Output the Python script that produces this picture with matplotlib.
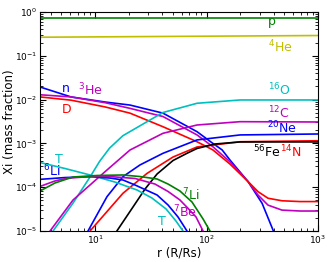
import matplotlib
matplotlib.use('Agg')
import matplotlib.pyplot as plt

# abundance profiles: radius r (R/Rs) and mass fraction Xi
r_p = [3.21, 10, 100, 1000]
x_p = [0.73, 0.73, 0.73, 0.73]
r_he4 = [3.21, 10, 100, 1000]
x_he4 = [0.265, 0.27, 0.28, 0.29]

r_n = [3.21, 6.09, 12.3, 20.6, 40.7, 82.2, 114, 138, 162, 236, 315, 395, 420]
x_n = [0.0194, 0.0115, 0.0088, 0.0075, 0.0049, 0.00185, 0.0010, 0.00071, 0.00042,
       1.34e-4, 4.3e-5, 1.05e-5, 7e-6]
r_he3 = [3.21, 6.09, 12.3, 20.6, 40.7, 82.2, 114, 162, 236, 290, 356, 475, 690, 1000]
x_he3 = [0.0129, 0.0115, 0.0085, 0.0063, 0.0041, 0.00156, 8.4e-4, 3.8e-4, 1.34e-4,
         6.6e-5, 3.9e-5, 3.0e-5, 2.86e-5, 2.86e-5]
r_d = [3.21, 6.09, 12.3, 20.6, 40.7, 82.2, 114, 162, 236, 290, 356, 475, 690, 1000]
x_d = [0.0115, 0.0097, 0.0068, 0.0049, 0.0024, 0.00109, 7.1e-4, 3.39e-4, 1.34e-4,
       7.9e-5, 5.6e-5, 4.9e-5, 4.7e-5, 4.7e-5]

r_o16 = [4.0, 4.20, 6.35, 9.02, 11.0, 13.5, 17.8, 29.3, 40.7, 82.2, 200, 1000]
x_o16 = [7e-6, 1e-5, 4.35e-5, 1.71e-4, 3.9e-4, 7.8e-4, 1.5e-3, 3.13e-3, 5.07e-3,
         8.24e-3, 0.0098, 0.0098]
r_c12 = [3.8, 3.95, 6.35, 12.8, 20.6, 40.7, 82.2, 200, 1000]
x_c12 = [7e-6, 1e-5, 5.1e-5, 2.47e-4, 7.07e-4, 1.7e-3, 2.63e-3, 3.13e-3, 3.08e-3]
r_ne20 = [8.4, 8.65, 12.8, 17.8, 25.3, 40.7, 82.2, 200, 1000]
x_ne20 = [7e-6, 1e-5, 6.07e-5, 1.74e-4, 3.22e-4, 5.94e-4, 1.2e-3, 1.56e-3, 1.64e-3]
r_n14 = [8.8, 9.02, 17.8, 29.3, 50.1, 82.2, 200, 1000]
x_n14 = [7e-6, 1e-5, 7.26e-5, 2.07e-4, 4.89e-4, 8.28e-4, 1.09e-3, 1.15e-3]
r_fe56 = [15.2, 15.7, 21.9, 28.1, 36.0, 50.1, 66.8, 82.2, 119, 200, 1000]
x_fe56 = [7e-6, 1e-5, 3.53e-5, 9.1e-5, 2.0e-4, 4.07e-4, 5.94e-4, 7.66e-4, 9.68e-4, 1.08e-3, 1.08e-3]

r_t = [3.21, 5.38, 9.02, 15.1, 23.8, 32.4, 43.4, 53.2, 61.5, 64]
x_t = [3.66e-4, 2.67e-4, 1.9e-4, 1.31e-4, 8.63e-5, 5.66e-5, 3.18e-5, 1.69e-5, 1e-5, 7e-6]
r_li6 = [3.21, 5.38, 9.02, 13.6, 17.8, 22.9, 36.0, 45.2, 55.5, 66.8, 69]
x_li6 = [1.51e-4, 1.66e-4, 1.74e-4, 1.62e-4, 1.46e-4, 1.12e-4, 6.64e-5, 3.92e-5, 2.09e-5, 1e-5, 7e-6]
r_be7 = [3.21, 4.38, 5.61, 9.02, 13.6, 22.9, 34.5, 45.2, 57.8, 68.2, 80.5, 93.1, 96]
x_be7 = [1.04e-4, 1.39e-4, 1.6e-4, 1.75e-4, 1.75e-4, 1.58e-4, 1.18e-4, 7.98e-5, 5.1e-5,
         3.3e-5, 2.09e-5, 1e-5, 7e-6]
r_li7 = [3.21, 4.38, 6.35, 10.4, 17.8, 25.3, 36.0, 45.2, 57.8, 74.1, 93.1, 107.4, 111]
x_li7 = [8.18e-5, 1.25e-4, 1.71e-4, 1.85e-4, 1.9e-4, 1.75e-4, 1.54e-4, 1.18e-4, 8.18e-5,
         4.59e-5, 1.88e-5, 1e-5, 7e-6]

G = (0, 0.5, 0); C = (0, 0.75, 0.75); M = (0.75, 0, 0.75); Y = (0.75, 0.75, 0)

fig = plt.figure(figsize=(3.29, 2.62), dpi=100)
ax = fig.add_axes([0.1216, 0.1183, 0.845, 0.836])
lw = 1.2
ax.plot(r_p, x_p, color=G, lw=lw)
ax.plot(r_he4, x_he4, color=Y, lw=lw)
ax.plot(r_n, x_n, color='b', lw=lw)
ax.plot(r_he3, x_he3, color=M, lw=lw)
ax.plot(r_d, x_d, color='r', lw=lw)
ax.plot(r_o16, x_o16, color=C, lw=lw)
ax.plot(r_c12, x_c12, color=M, lw=lw)
ax.plot(r_ne20, x_ne20, color='b', lw=lw)
ax.plot(r_n14, x_n14, color='r', lw=lw)
ax.plot(r_fe56, x_fe56, color='k', lw=lw)
ax.plot(r_t, x_t, color=C, lw=lw)
ax.plot(r_li6, x_li6, color='b', lw=lw)
ax.plot(r_be7, x_be7, color=M, lw=lw)
ax.plot(r_li7, x_li7, color=G, lw=lw)

ax.set_xscale('log'); ax.set_yscale('log')
ax.set_xlim(3.21, 1000); ax.set_ylim(1e-5, 1)
ax.tick_params(which='both', direction='in', top=True, right=True, labelsize=6.5, pad=2)
ax.tick_params(which='major', length=4)
ax.tick_params(which='minor', length=2)
ax.set_xlabel('r (R/Rs)', fontsize=8.5)
ax.set_ylabel('Xi (mass fraction)', fontsize=8.5)
ax.xaxis.set_label_coords(0.5, -0.072)
ax.yaxis.set_label_coords(-0.088, 0.5)

fs = 9
labels = [
    (356, 0.505, 'p', G), (356, 0.122, r'$^{4}$He', Y),
    (356, 0.0127, r'$^{16}$O', C), (356, 0.0038, r'$^{12}$C', M),
    (347, 0.00173, r'$^{20}$Ne', 'b'), (261, 0.00049, r'$^{56}$Fe', 'k'),
    (456, 0.00049, r'$^{14}$N', 'r'),
    (5.06, 0.0149, 'n', 'b'), (7.04, 0.0127, r'$^{3}$He', M), (5.06, 0.00494, 'D', 'r'),
    (4.38, 3.57e-4, 'T', C), (3.42, 1.8e-4, r'$^{6}$Li', 'b'),
    (60.3, 5.1e-5, r'$^{7}$Li', G), (50.1, 2.09e-5, r'$^{7}$Be', M),
    (36.7, 1.37e-5, 'T', C),
]
for xx, yy, s, c in labels:
    ax.text(xx, yy, s, color=c, fontsize=fs, ha='left', va='baseline')

fig.savefig('out.png', dpi=100)
